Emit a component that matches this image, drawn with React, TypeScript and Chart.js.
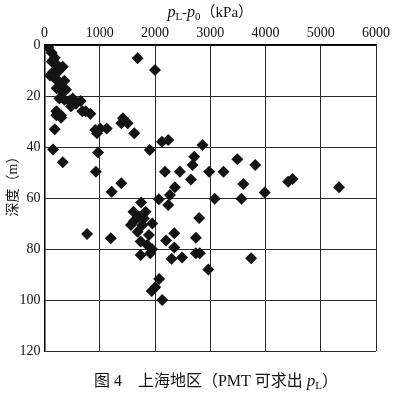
import React, { useEffect, useRef } from 'react';
import { Chart, registerables } from 'chart.js';

Chart.register(...registerables);

// p_L - p_0 (kPa) values and depth (m) values, paired by index
const pressureKPa = [
  30, 70, 130, 185, 130, 215, 330, 160, 245, 100, 185, 275, 360, 300, 390, 220, 330,
  270, 360, 450, 510, 570, 655, 480, 745, 685, 830, 215, 300, 215, 300, 185, 155, 330,
  920, 1010, 1125, 950, 1390, 1420, 1505, 1625, 1685, 2000, 970, 930, 1390, 1215, 1905,
  2125, 2240, 2860, 2710, 2680, 2180, 2450, 2650, 2980, 3240, 3490, 3815, 3600, 3985,
  4410, 4490, 5330, 2360, 2270, 2070, 2240, 3080, 3565, 1750,
  1830, 1610, 1710, 1565, 1770, 1950, 1685, 1890, 1740, 1860, 1950, 1740, 1915, 1620, 1800,
  770, 1200, 2800, 2350, 2740, 2200, 2350, 2300, 2490, 2740, 2810, 2965, 2075, 2005, 1940,
  2130, 3740,
];
const depthM = [
  0, 1, 3, 5, 6.5, 7.5, 8.5, 10.5, 10.5, 12, 13, 14.5, 14, 16.5, 17.5, 17, 18.5,
  21, 21.5, 22, 21, 23, 22, 24, 26, 26, 27, 26, 27.5, 27.5, 28.5, 33, 41, 46,
  33.3, 32.7, 32.7, 34.6, 30.7, 28.7, 30.7, 34.6, 5.2, 9.8, 42.2, 49.7, 54.2, 57.5, 41.2,
  37.9, 37.3, 39.2, 43.8, 47.1, 49.7, 49.7, 52.7, 49.7, 49.7, 44.8, 47.1, 54.5, 57.8,
  53.6, 52.5, 55.8, 55.8, 58.8, 60.5, 62.7, 60.3, 60.3, 61.8,
  65.4, 65.4, 67.3, 70.6, 70.6, 70, 73.2, 74.5, 77.1, 78.4, 80.1, 82.4, 81.7, 69, 68,
  74.1, 75.8, 67.8, 73.8, 75.6, 76.7, 79.4, 83.8, 83.3, 81.7, 81.7, 88, 91.8, 95, 96.5,
  100, 83.6,
];

const xTicks = [0, 1000, 2000, 3000, 4000, 5000, 6000];
const yTicks = [0, 20, 40, 60, 80, 100, 120];

const yTitle = '深度（m）';
const captionPrefix = '图 4　上海地区（PMT 可求出 ';
const captionSuffix = '）';

const SERIF = '"Liberation Serif", "Noto Sans CJK SC"';

type Part = { t: string; f: string; dy: number };

function drawParts(ctx: CanvasRenderingContext2D, parts: Part[], cx: number, y: number) {
  let total = 0;
  for (const p of parts) {
    ctx.font = p.f;
    total += ctx.measureText(p.t).width;
  }
  let x = cx - total / 2;
  ctx.textAlign = 'left';
  for (const p of parts) {
    ctx.font = p.f;
    ctx.fillText(p.t, x, y + p.dy);
    x += ctx.measureText(p.t).width;
  }
}

const textPlugin = {
  id: 'customTexts',
  afterDraw(chart: any) {
    const ctx: CanvasRenderingContext2D = chart.ctx;
    const area = chart.chartArea;
    ctx.save();
    ctx.fillStyle = '#111';
    ctx.textBaseline = 'alphabetic';
    // x axis title
    drawParts(
      ctx,
      [
        { t: 'p', f: `italic 16px ${SERIF}`, dy: 0 },
        { t: 'L', f: `11px ${SERIF}`, dy: 3 },
        { t: '-', f: `15px ${SERIF}`, dy: 0 },
        { t: 'p', f: `italic 16px ${SERIF}`, dy: 0 },
        { t: '0', f: `11px ${SERIF}`, dy: 3 },
        { t: '（kPa）', f: `15px ${SERIF}`, dy: 0 },
      ],
      (area.left + area.right) / 2,
      17
    );
    // y axis title
    ctx.save();
    ctx.translate(13, 183);
    ctx.rotate(-Math.PI / 2);
    ctx.font = `14px ${SERIF}`;
    ctx.textAlign = 'center';
    ctx.textBaseline = 'middle';
    ctx.fillText(yTitle, 0, 0);
    ctx.restore();
    // caption
    ctx.textBaseline = 'alphabetic';
    drawParts(
      ctx,
      [
        { t: captionPrefix, f: `16px ${SERIF}`, dy: 0 },
        { t: 'p', f: `italic 17px ${SERIF}`, dy: 0 },
        { t: 'L', f: `11px ${SERIF}`, dy: 3 },
        { t: captionSuffix, f: `16px ${SERIF}`, dy: 0 },
      ],
      216,
      386
    );
    ctx.restore();
  },
};

export default function App() {
  const canvasRef = useRef<HTMLCanvasElement | null>(null);

  useEffect(() => {
    const canvas = canvasRef.current;
    if (!canvas) return;
    const points = pressureKPa.map((x, i) => ({ x, y: depthM[i] }));
    const chart = new Chart(canvas, {
      type: 'scatter',
      data: {
        datasets: [
          {
            data: points,
            pointStyle: 'rectRot',
            pointRadius: 6,
            pointBackgroundColor: '#141414',
            pointBorderColor: '#141414',
            pointBorderWidth: 0,
          },
        ],
      },
      options: {
        animation: false,
        responsive: false,
        maintainAspectRatio: false,
        events: [],
        layout: { padding: { left: 0, top: 0, right: 8, bottom: 44 } },
        plugins: {
          legend: { display: false },
          tooltip: { enabled: false },
          title: { display: false },
        },
        scales: {
          x: {
            type: 'linear',
            position: 'top',
            min: 0,
            max: 6000,
            afterBuildTicks: (s: any) => {
              s.ticks = xTicks.map((v) => ({ value: v }));
            },
            afterFit: (s: any) => {
              s.height = 45;
            },
            ticks: {
              padding: 3,
              color: '#111',
              font: { family: SERIF, size: 14 },
              maxRotation: 0,
              autoSkip: false,
              callback: (v: any) => String(v),
            },
            grid: { color: '#2a2a2a', lineWidth: 1, drawTicks: false },
            border: { color: '#000', width: 1.5 },
          },
          y: {
            type: 'linear',
            reverse: true,
            min: 0,
            max: 120,
            afterBuildTicks: (s: any) => {
              s.ticks = yTicks.map((v) => ({ value: v }));
            },
            afterFit: (s: any) => {
              s.width = 44.5;
            },
            ticks: {
              padding: 4,
              color: '#111',
              font: { family: SERIF, size: 14 },
              autoSkip: false,
              callback: (v: any) => String(v),
            },
            grid: { color: '#2a2a2a', lineWidth: 1, drawTicks: false },
            border: { color: '#000', width: 1.5 },
          },
        },
      },
      plugins: [textPlugin],
    });
    return () => chart.destroy();
  }, []);

  return (
    <div style={{ position: 'absolute', left: 0, top: 0, width: 393, height: 395, background: '#fff' }}>
      <canvas ref={canvasRef} width={393} height={395} style={{ width: 393, height: 395, display: 'block' }} />
    </div>
  );
}
